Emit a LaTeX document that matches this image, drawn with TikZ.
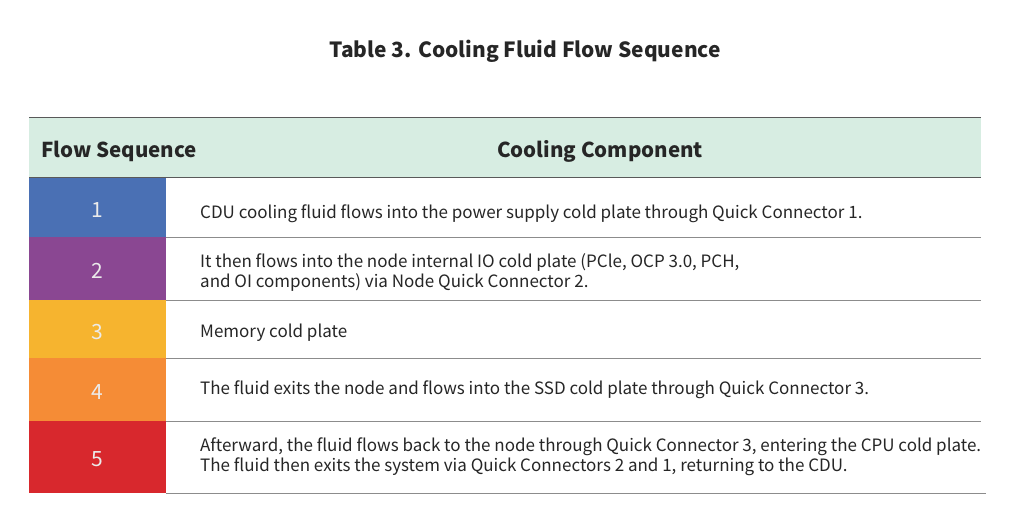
\documentclass[tikz,border=0pt]{standalone}
\usepackage{fontspec}
\setmainfont{Noto Sans CJK SC}
\begin{document}
\begin{tikzpicture}[x=1pt,y=-1pt,
  hdr/.style={font=\fontsize{20.5}{25}\selectfont\bfseries, text=black!85, inner sep=0},
  num/.style={font=\fontsize{21}{24}\selectfont, text=white!92!black, inner sep=0},
  body/.style={font=\fontsize{17}{20}\selectfont, text=black!85, inner sep=0, anchor=west, align=left},
  sep/.style={draw=black!45, line width=0.9pt}]
\useasboundingbox (0,0) rectangle (1024,516);
\fill[white] (0,0) rectangle (1024,516);
\definecolor{hdrgreen}{HTML}{D7EDE2}
\definecolor{c1}{HTML}{4A70B4}
\definecolor{c2}{HTML}{8A4792}
\definecolor{c3}{HTML}{F6B42F}
\definecolor{c4}{HTML}{F58C36}
\definecolor{c5}{HTML}{D8282D}
\node[font=\fontsize{20.9}{24}\selectfont\bfseries, text=black!85, inner sep=0] (title) at (525,51) {Table 3. Cooling Fluid Flow Sequence};
\fill[hdrgreen] (29,117) rectangle (981,177);
\draw[sep, draw=black!65] (29,117) -- (981,117);
\draw[sep, draw=black!65] (29,177) -- (981,177);
\node[hdr, anchor=west] (h1) at (41,151) {Flow Sequence};
\node[hdr] (h2) at (600,151) {Cooling Component};
\fill[c1] (29,177.5) rectangle (166,237);
\fill[c2] (29,237) rectangle (166,300);
\fill[c3] (29,300) rectangle (166,358);
\fill[c4] (29,358) rectangle (166,421);
\fill[c5] (29,421) rectangle (166,493);
\draw[sep] (166,237) -- (981,237);
\draw[sep] (166,300) -- (981,300);
\draw[sep] (166,358) -- (981,358);
\draw[sep] (166,421) -- (981,421);
\draw[sep] (166,493) -- (986,493);
\node[num] (n1) at (97,210) {1};
\node[num] (n2) at (97,271) {2};
\node[num] (n3) at (97,332) {3};
\node[num] (n4) at (97,392) {4};
\node[num] (n5) at (97,459) {5};
\node[body] (t1) at (200,214) {CDU cooling fluid flows into the power supply cold plate through Quick Connector 1.};
\node[body] (t2) at (200,272) {It then flows into the node internal IO cold plate (PCle, OCP 3.0, PCH,\\and OI components) via Node Quick Connector 2.};
\node[body] (t3) at (200,333) {Memory cold plate};
\node[body] (t4) at (200,390) {The fluid exits the node and flows into the SSD cold plate through Quick Connector 3.};
\node[body] (t5) at (200,457) {Afterward, the fluid flows back to the node through Quick Connector 3, entering the CPU cold plate.\\The fluid then exits the system via Quick Connectors 2 and 1, returning to the CDU.};
\end{tikzpicture}
\end{document}
